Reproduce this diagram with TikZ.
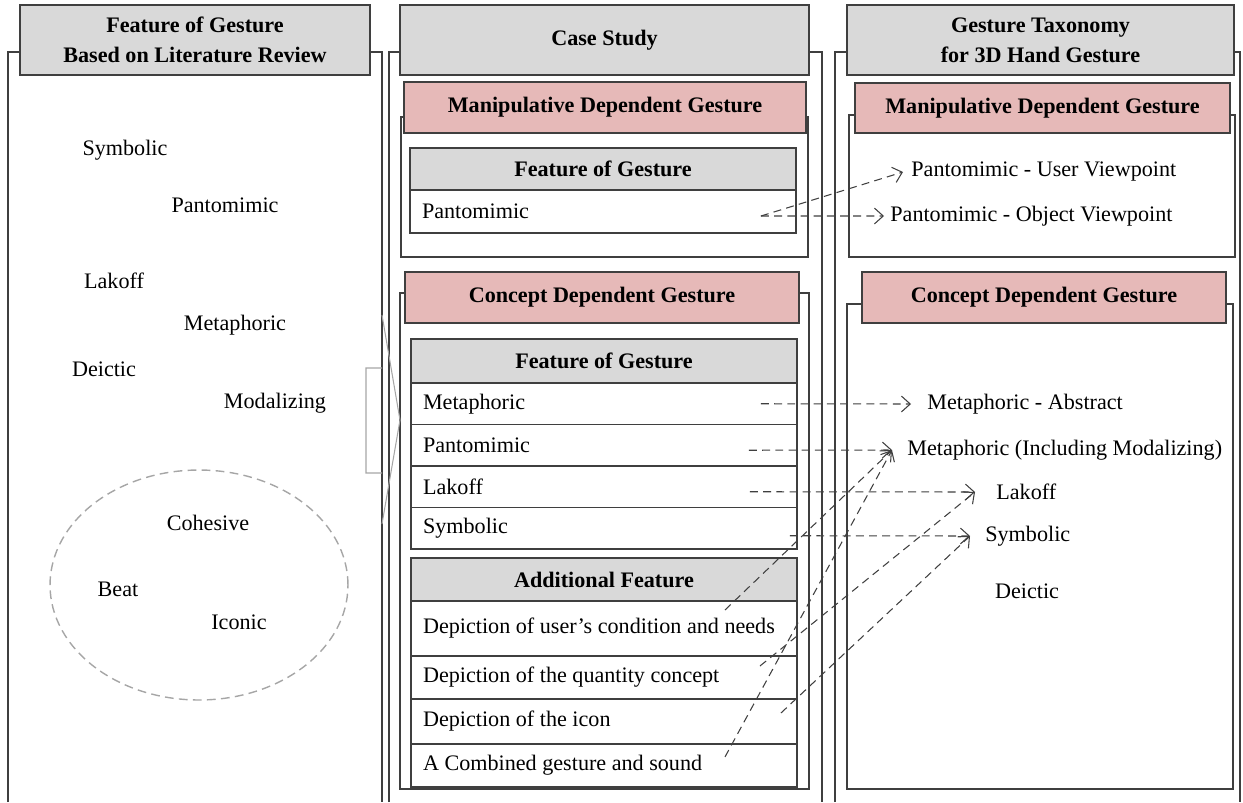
\documentclass[tikz,border=0pt]{standalone}
\usepackage{fontspec}
\setmainfont{Liberation Serif}
\usetikzlibrary{positioning, arrows.meta}

\definecolor{boxgray}{HTML}{D9D9D9}
\definecolor{boxpink}{HTML}{E6B9B8}
\definecolor{edgegray}{HTML}{3F3F3F}
\definecolor{lightedge}{HTML}{A6A6A6}

\newcommand{\diagfont}{\fontsize{12.6}{17}\selectfont}

\tikzset{
  headbox/.style={draw=edgegray, line width=0.8pt, fill=boxgray, font=\diagfont\bfseries, align=center, outer sep=0pt, inner sep=0pt},
  pinkbox/.style={draw=edgegray, line width=0.8pt, fill=boxpink, font=\diagfont\bfseries, outer sep=0pt, inner sep=0pt},
  rowbox/.style={draw=edgegray, line width=0.8pt, minimum width=7.72cm, text width=7.24cm, inner xsep=0.24cm, inner ysep=0pt, align=flush left, outer sep=0pt},
  colframe/.style={draw=edgegray, line width=0.7pt},
  link/.style={draw=edgegray, line width=0.6pt, dash pattern=on 4.5pt off 3pt, -{Straight Barb[length=5pt, width=9pt]}},
  lbl/.style={anchor=west, inner ysep=2pt},
}

\begin{document}
\begin{tikzpicture}[x=0.02cm, y=-0.02cm, font=\diagfont]
    \useasboundingbox (0,0) rectangle (1243,802);
    % Column frames
    \draw [colframe] (8,802) -- (8,52) -- (382,52) -- (382,802);
    \draw [colframe] (389,802) -- (389,52) -- (822,52) -- (822,802);
    \draw [colframe] (835,802) -- (835,52) -- (1240,52) -- (1240,802);
    \draw [colframe] (401,117) rectangle (808,257);
    \draw [colframe] (400,293) rectangle (809,789);
    \draw [colframe] (849,115) rectangle (1235,257);
    \draw [colframe] (847,304) rectangle (1233,789);
    % Column headers
    \node (litHead) [headbox, minimum width=7cm, minimum height=1.4cm] at (195,40) {Feature of Gesture\\Based on Literature Review};
    \node (caseHead) [headbox, minimum width=8.18cm, minimum height=1.4cm] at (604.5,40) {Case Study};
    \node (taxHead) [headbox, minimum width=7.74cm, minimum height=1.4cm] at (1040.5,40) {Gesture Taxonomy\\for 3D Hand Gesture};
    \node (caseManip) [pinkbox, minimum width=8.04cm, minimum height=1.02cm] at (605,107.5) {Manipulative Dependent Gesture};
    \node (caseConc) [pinkbox, minimum width=7.88cm, minimum height=1.02cm] at (602,297.5) {Concept Dependent Gesture};
    \node (taxManip) [pinkbox, minimum width=7.5cm, minimum height=1.0cm] at (1042.5,108) {Manipulative Dependent Gesture};
    \node (taxConc) [pinkbox, minimum width=7.28cm, minimum height=1.02cm] at (1044,297.5) {Concept Dependent Gesture};
    % Literature review features
    \node (lSym) at (125,150) {Symbolic};
    \node (lPanto) at (225,205) {Pantomimic};
    \node (lLak) at (114,281) {Lakoff};
    \node (lMeta) at (235,325) {Metaphoric};
    \node (lDei) at (104,369) {Deictic};
    \node (lModal) at (275,403) {Modalizing};
    \node (lCoh) at (208,523) {Cohesive};
    \node (lBeat) at (118,589) {Beat};
    \node (lIcon) at (239,622) {Iconic};
    \draw [lightedge, line width=0.8pt, dash pattern=on 5pt off 3pt] (199,585) ellipse [x radius=2.98cm, y radius=2.3cm];
    \draw [lightedge, line width=0.6pt] (382,315) -- (400,420) -- (382,524) (382,368) -- (366,368) -- (366,473) -- (382,473);
    % Case study tables
    \node (mfHead) [headbox, minimum width=7.72cm, minimum height=0.84cm] at (603,169) {Feature of Gesture};
    \node (mfPanto) [rowbox, minimum height=0.86cm, below=0pt of mfHead] {Pantomimic};
    \node (cfHead) [headbox, minimum width=7.72cm, minimum height=0.88cm] at (604,361) {Feature of Gesture};
    \node (cfMeta) [rowbox, minimum height=0.83cm, below=0pt of cfHead] {Metaphoric};
    \node (cfPanto) [rowbox, minimum height=0.83cm, below=0pt of cfMeta] {Pantomimic};
    \node (cfLak) [rowbox, minimum height=0.83cm, below=0pt of cfPanto] {Lakoff};
    \node (cfSym) [rowbox, minimum height=0.83cm, below=0pt of cfLak] {Symbolic};
    \node (afHead) [headbox, minimum width=7.72cm, minimum height=0.86cm] at (604,579.5) {Additional Feature};
    \node (afUser) [rowbox, minimum height=1.1cm, below=0pt of afHead] {Depiction of user’s condition and needs};
    \node (afQty) [rowbox, minimum height=0.86cm, below=0pt of afUser] {Depiction of the quantity concept};
    \node (afIcon) [rowbox, minimum height=0.9cm, below=0pt of afQty] {Depiction of the icon};
    \node (afSound) [rowbox, minimum height=0.86cm, below=0pt of afIcon] {A Combined gesture and sound};
    % Taxonomy labels
    \node (tUser) [lbl, inner xsep=0.16cm] at (903,172) {Pantomimic - User Viewpoint};
    \node (tObj) [lbl, inner xsep=0.12cm] at (884,216) {Pantomimic - Object Viewpoint};
    \node (tAbs) [lbl, inner xsep=0.32cm] at (911,404) {Metaphoric - Abstract};
    \node (tInc) [lbl, inner xsep=0.3cm] at (892,450) {Metaphoric (Including Modalizing)};
    \node (tLak) [lbl, inner xsep=0.42cm] at (975,492) {Lakoff};
    \node (tSym) [lbl, inner xsep=0.3cm] at (970,536) {Symbolic};
    \node (tDei) at (1027,591) {Deictic};
    % Mappings
    \draw [link] ([xshift=-0.7cm, yshift=-0.09cm]mfPanto.east) -- (tUser.west);
    \draw [link] ([xshift=-0.7cm, yshift=-0.09cm]mfPanto.east) -- (tObj.west);
    \draw [link] ([xshift=-0.72cm]cfMeta.east) -- (tAbs.west);
    \draw [link] ([xshift=-0.96cm, yshift=-0.1cm]cfPanto.east) -- (tInc.west);
    \draw [link] ([xshift=-0.94cm, yshift=-0.1cm]cfLak.east) -- (tLak.west);
    \draw [link] ([xshift=-0.14cm, yshift=-0.15cm]cfSym.east) -- (tSym.west);
    \draw [link] ([xshift=-1.44cm, yshift=0.37cm]afUser.east) -- (tInc.west);
    \draw [link] ([xshift=-0.74cm, yshift=0.23cm]afQty.east) -- (tLak.west);
    \draw [link] ([xshift=-0.32cm, yshift=0.17cm]afIcon.east) -- (tSym.west);
    \draw [link] ([xshift=-1.44cm, yshift=0.17cm]afSound.east) -- (tInc.west);
\end{tikzpicture}
\end{document}
